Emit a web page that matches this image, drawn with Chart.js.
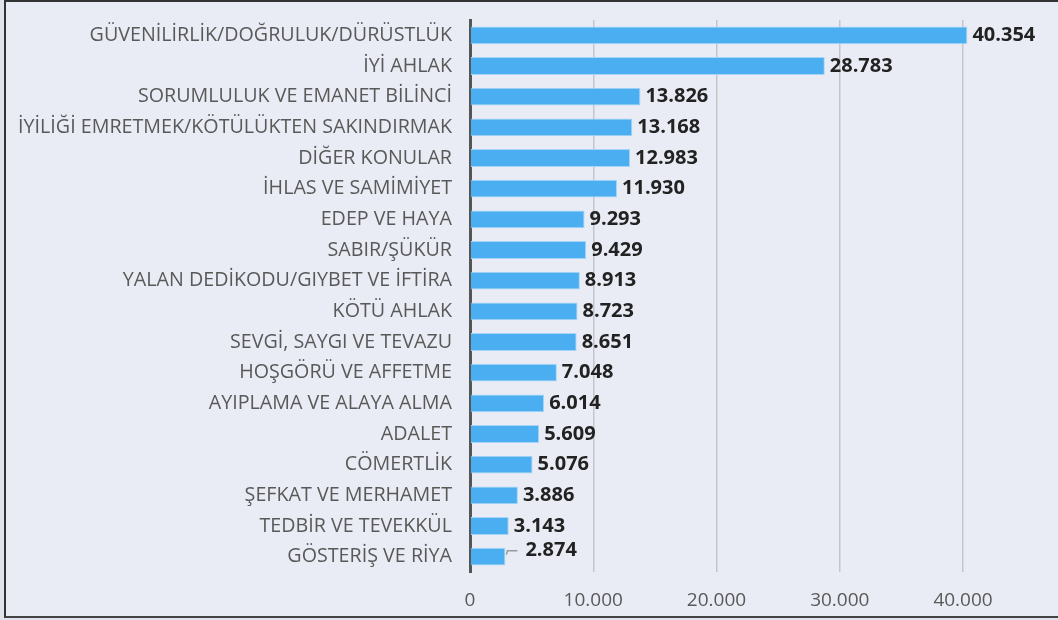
<!DOCTYPE html>
<html>
<head>
<meta charset="utf-8">
<script src="https://cdn.jsdelivr.net/npm/chart.js@4.4.1/dist/chart.umd.min.js"></script>
<style>
  html, body { margin: 0; padding: 0; background: #dfe3eb; }
  .frame {
    position: absolute; left: 4px; top: 0; width: 1054px; height: 618px;
    background: #e9ecf4;
    border-left: 2px solid #333; border-top: 2px solid #333; border-bottom: 2px solid #444;
    box-sizing: border-box;
  }
  #wrap { position: absolute; left: 0; top: 0; width: 1058px; height: 620px; }
</style>
</head>
<body>
<div class="frame"></div>
<div id="wrap"><canvas id="chart"></canvas></div>
<script>
// categories (top to bottom) and their counts
const categories = [
  "GÜVENİLİRLİK/DOĞRULUK/DÜRÜSTLÜK",
  "İYİ AHLAK",
  "SORUMLULUK VE EMANET BİLİNCİ",
  "İYİLİĞİ EMRETMEK/KÖTÜLÜKTEN SAKINDIRMAK",
  "DİĞER KONULAR",
  "İHLAS VE SAMİMİYET",
  "EDEP VE HAYA",
  "SABIR/ŞÜKÜR",
  "YALAN DEDİKODU/GIYBET VE İFTİRA",
  "KÖTÜ AHLAK",
  "SEVGİ, SAYGI VE TEVAZU",
  "HOŞGÖRÜ VE AFFETME",
  "AYIPLAMA VE ALAYA ALMA",
  "ADALET",
  "CÖMERTLİK",
  "ŞEFKAT VE MERHAMET",
  "TEDBİR VE TEVEKKÜL",
  "GÖSTERİŞ VE RİYA"
];
const counts = [40354, 28783, 13826, 13168, 12983, 11930, 9293, 9429, 8913, 8723, 8651, 7048, 6014, 5609, 5076, 3886, 3143, 2874];
const tickValues = [0, 10000, 20000, 30000, 40000];

const FONT = "'Open Sans', 'DejaVu Sans', sans-serif";
const fmt = v => v.toLocaleString('tr-TR');

// value labels at the end of each bar; the last one sits on a small callout
const valueLabels = {
  id: 'valueLabels',
  afterDatasetsDraw(chart) {
    const ctx = chart.ctx;
    const meta = chart.getDatasetMeta(0);
    ctx.save();
    ctx.font = "bold 20px " + FONT;
    ctx.fillStyle = "#222";
    ctx.textBaseline = "middle";
    ctx.textAlign = "left";
    meta.data.forEach((bar, i) => {
      const txt = fmt(counts[i]);
      if (i === meta.data.length - 1) {
        const y = bar.y - 6;
        ctx.strokeStyle = "#999";
        ctx.lineWidth = 1.5;
        ctx.beginPath();
        ctx.moveTo(bar.x + 1, bar.y - 2);
        ctx.lineTo(bar.x + 2, y);
        ctx.lineTo(bar.x + 12, y);
        ctx.stroke();
        ctx.fillText(txt, bar.x + 20, y);
      } else {
        ctx.fillText(txt, bar.x + 5, bar.y);
      }
    });
    ctx.restore();
  }
};

new Chart(document.getElementById("chart"), {
  type: "bar",
  data: {
    labels: categories,
    datasets: [{
      data: counts,
      backgroundColor: "#4aaef0",
      borderColor: "#a6d6f7",
      borderWidth: 1,
      borderSkipped: "start",
      barPercentage: 0.58,
      categoryPercentage: 1
    }]
  },
  options: {
    indexAxis: "y",
    responsive: true,
    maintainAspectRatio: false,
    animation: false,
    layout: { padding: { top: 20, right: 21, bottom: 0, left: 0 } },
    plugins: { legend: { display: false }, tooltip: { enabled: false } },
    scales: {
      x: {
        min: 0, max: 46000,
        afterBuildTicks: s => { s.ticks = tickValues.map(v => ({ value: v })); },
        afterFit: s => { s.height = 48; s.paddingLeft = 0; s.paddingRight = 0; },
        grid: { color: "#c4c6cc", lineWidth: 1.5, drawTicks: false },
        border: { display: false },
        ticks: { color: "#595959", font: { family: FONT, size: 19 }, padding: 17, callback: v => fmt(v) }
      },
      y: {
        afterFit: s => { s.width = 470; s.paddingTop = 0; s.paddingBottom = 0; },
        grid: { display: false, drawTicks: false },
        border: { color: "#555", width: 3 },
        ticks: { color: "#595959", font: { family: FONT, size: 19.7 }, padding: 18 }
      }
    }
  },
  plugins: [valueLabels]
});
</script>
</body>
</html>
